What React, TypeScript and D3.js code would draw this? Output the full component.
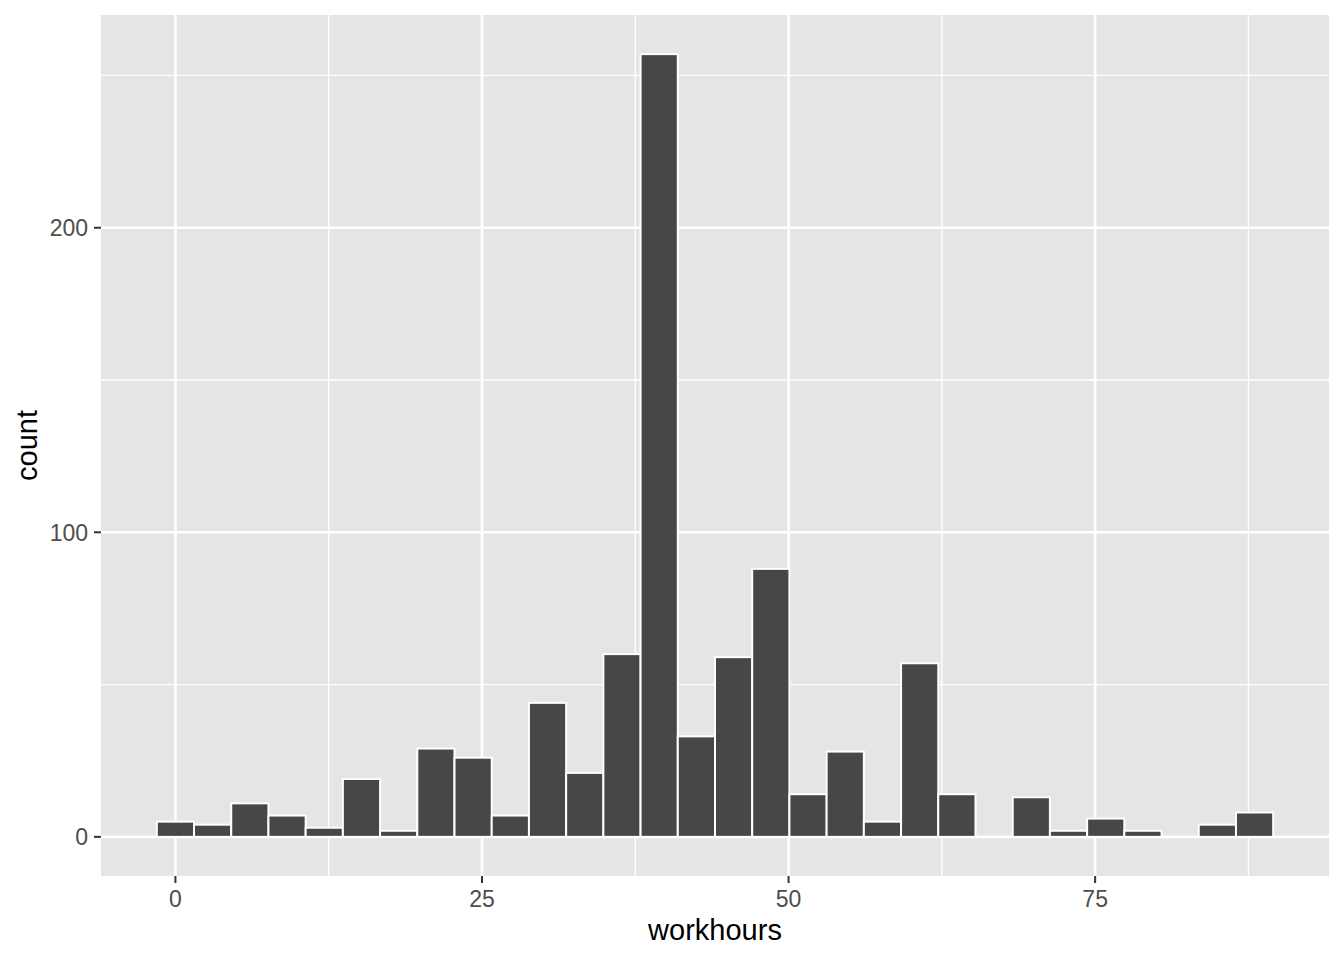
import * as d3 from 'd3';
import React from 'react';

// histogram of workhours, 30 bins over the data range 0..88
const dataMin = 0;
const dataMax = 88;
const binCount = 30;
const counts = [5, 4, 11, 7, 3, 19, 2, 29, 26, 7, 44, 21, 60, 257, 33, 59, 88, 14, 28, 5, 57, 14, 0, 13, 2, 6, 2, 0, 4, 8];

const xTicks = [0, 25, 50, 75];
const xMinor = [12.5, 37.5, 62.5, 87.5];
const yTicks = [0, 100, 200];
const yMinor = [50, 150, 250];

const width = 1344;
const height = 960;
const panel = { left: 101, top: 15, right: 1329, bottom: 876 };

const binWidth = (dataMax - dataMin) / (binCount - 1);
const bins = counts.map((c, i) => ({
  x0: dataMin - binWidth / 2 + i * binWidth,
  x1: dataMin + binWidth / 2 + i * binWidth,
  count: c,
}));

const App: React.FC = () => {
  const xLo = bins[0].x0;
  const xHi = bins[bins.length - 1].x1;
  const xPad = (xHi - xLo) * 0.05;
  const x = d3.scaleLinear().domain([xLo - xPad, xHi + xPad]).range([panel.left, panel.right]);

  const yMax = d3.max(counts) || 0;
  const yPad = yMax * 0.05;
  const y = d3.scaleLinear().domain([-yPad, yMax + yPad]).range([panel.bottom, panel.top]);

  const tickColor = '#333333';
  const labelColor = '#4D4D4D';
  const font = '"Liberation Sans", Arial, Helvetica, sans-serif';

  return (
    <svg width={width} height={height} style={{ display: 'block', position: 'absolute', left: 0, top: 0 }}>
      <rect x={0} y={0} width={width} height={height} fill="#FFFFFF" />
      <rect x={panel.left} y={panel.top} width={panel.right - panel.left} height={panel.bottom - panel.top} fill="#E5E5E5" />

      {/* minor grid */}
      {xMinor.map(v => (
        <line key={'xm' + v} x1={x(v)} x2={x(v)} y1={panel.top} y2={panel.bottom} stroke="#FFFFFF" strokeWidth={1.3} />
      ))}
      {yMinor.map(v => (
        <line key={'ym' + v} x1={panel.left} x2={panel.right} y1={y(v)} y2={y(v)} stroke="#FFFFFF" strokeWidth={1.3} />
      ))}
      {/* major grid */}
      {xTicks.map(v => (
        <line key={'xg' + v} x1={x(v)} x2={x(v)} y1={panel.top} y2={panel.bottom} stroke="#FFFFFF" strokeWidth={2.6} />
      ))}
      {yTicks.map(v => (
        <line key={'yg' + v} x1={panel.left} x2={panel.right} y1={y(v)} y2={y(v)} stroke="#FFFFFF" strokeWidth={2.6} />
      ))}

      {/* bars */}
      {bins.map((b, i) => (
        <rect
          key={i}
          x={x(b.x0)}
          y={y(b.count)}
          width={x(b.x1) - x(b.x0)}
          height={y(0) - y(b.count)}
          fill="#474747"
          stroke="#FFFFFF"
          strokeWidth={2}
        />
      ))}

      {/* x axis */}
      {xTicks.map(v => (
        <g key={'xt' + v}>
          <line x1={x(v)} x2={x(v)} y1={panel.bottom} y2={panel.bottom + 7} stroke={tickColor} strokeWidth={2} />
          <text x={x(v)} y={907} textAnchor="middle" fontFamily={font} fontSize={23} fill={labelColor}>
            {v}
          </text>
        </g>
      ))}
      {/* y axis */}
      {yTicks.map(v => (
        <g key={'yt' + v}>
          <line x1={panel.left - 7} x2={panel.left} y1={y(v)} y2={y(v)} stroke={tickColor} strokeWidth={2} />
          <text x={88} y={y(v)} dy="0.36em" textAnchor="end" fontFamily={font} fontSize={23} fill={labelColor}>
            {v}
          </text>
        </g>
      ))}

      <text x={(panel.left + panel.right) / 2} y={940} textAnchor="middle" fontFamily={font} fontSize={29} fill="#000000">
        workhours
      </text>
      <text
        transform={`translate(37,${(panel.top + panel.bottom) / 2}) rotate(-90)`}
        textAnchor="middle"
        fontFamily={font}
        fontSize={29}
        fill="#000000"
      >
        count
      </text>
    </svg>
  );
};

export default App;
